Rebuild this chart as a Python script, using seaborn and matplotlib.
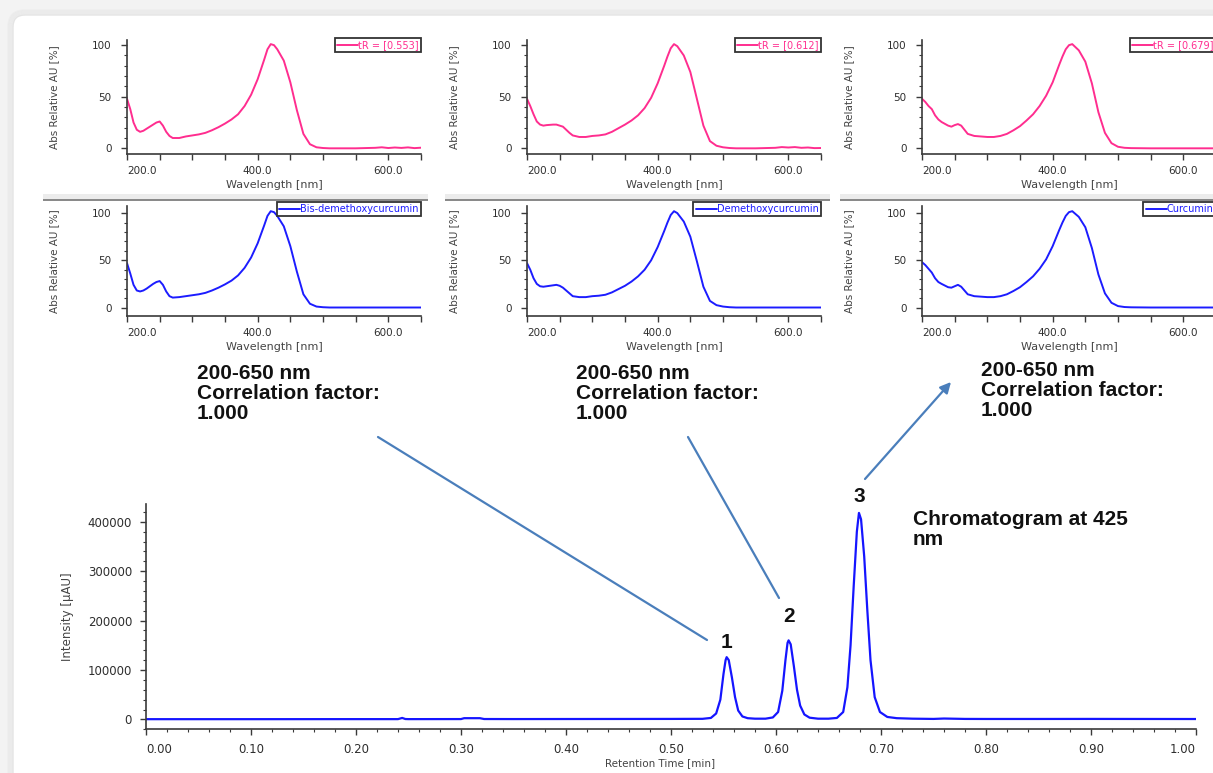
import matplotlib
matplotlib.use('Agg')
import matplotlib.pyplot as plt
from matplotlib.patches import FancyBboxPatch, Rectangle, FancyArrowPatch
from matplotlib.ticker import MultipleLocator
import seaborn as sns

sns.set_style('ticks')
plt.rcParams['font.family'] = ['DejaVu Sans']

# ---- data ----
wavelength = [200, 205, 210, 215, 220, 225, 230, 240, 245, 250, 255, 260, 265, 270,
              280, 290, 300, 310, 320, 330, 340, 350, 360, 370, 380, 390, 400, 410,
              415, 420, 425, 430, 440, 450, 460, 470, 480, 490, 500, 510, 520, 550,
              580, 590, 600, 610, 620, 630, 640, 650]

bis_sample = [48, 38, 25, 18, 16, 17, 19, 23, 25, 26, 22, 16, 12, 10,
              10, 11.5, 12.5, 13.5, 15, 17.5, 20.5, 24, 28, 33, 41, 52, 67, 86,
              96, 101, 100, 96, 85, 64, 37, 14, 4, 1, 0.3, 0, 0, 0,
              0.5, 1, 0.3, 0.8, 0.4, 0.9, 0.2, 0.6]
bis_library = [47, 36, 24, 18, 17, 18, 20, 25, 27, 28, 24, 17, 12, 10.5,
               11, 12, 13, 14, 15.5, 18, 21, 24.5, 28.5, 34, 42, 53, 68, 87,
               97, 102, 101, 97, 86, 65, 38, 14, 4, 1, 0.3, 0, 0, 0,
               0, 0, 0, 0, 0, 0, 0, 0]

dmc_sample = [48, 41, 33, 26, 23, 22, 22.5, 23, 23, 22, 21, 18, 15, 12.5,
              11, 11, 12, 12.5, 13.5, 16, 19.5, 23, 27, 32, 39, 49, 63, 80,
              89, 97, 101, 99, 90, 74, 48, 22, 7, 2.5, 1, 0.3, 0, 0,
              0.5, 1.2, 0.8, 1.2, 0.5, 0.8, 0.2, 0.3]
dmc_library = [47, 40, 31, 25, 22.5, 22, 22.5, 23.5, 24, 23, 21, 18, 15, 12,
               11, 11, 12, 12.5, 13.5, 16, 19.5, 23, 27.5, 33, 40, 50, 64, 81,
               90, 98, 102, 100, 91, 75, 49, 22, 7, 2.5, 1, 0.3, 0, 0,
               0, 0, 0, 0, 0, 0, 0, 0]

cur_sample = [48, 45, 41, 38, 32, 28, 25.5, 22, 21, 22.5, 23.5, 22, 18, 14,
              12, 11.5, 11, 11, 12, 14, 17.5, 21.5, 27, 33, 41, 51, 64, 81,
              89, 96, 100, 101, 95, 84, 63, 35, 15, 5, 1.5, 0.5, 0.2, 0,
              0, 0, 0, 0, 0, 0, 0, 0]
cur_library = [48, 45, 41, 37, 31, 27, 25, 21.5, 21, 22.5, 24, 22, 18, 14,
               12, 11.5, 11, 11, 12, 14, 17.5, 21.5, 27, 33, 41, 51, 65, 82,
               90, 97, 101, 102, 96, 85, 63, 35, 15, 5, 1.5, 0.5, 0.2, 0,
               0, 0, 0, 0, 0, 0, 0, 0]

sample_labels = ['tR = [0.553]', 'tR = [0.612]', 'tR = [0.679]']
library_labels = ['Bis-demethoxycurcumin', 'Demethoxycurcumin', 'Curcumin']

retention = [0.000, 0.100, 0.200, 0.240, 0.244, 0.247, 0.250, 0.300, 0.303, 0.318,
             0.322, 0.350, 0.400, 0.450, 0.500, 0.530, 0.538, 0.543, 0.547, 0.550,
             0.552, 0.553, 0.555, 0.558, 0.561, 0.564, 0.568, 0.573, 0.580, 0.590,
             0.597, 0.602, 0.606, 0.609, 0.611, 0.612, 0.614, 0.617, 0.620, 0.623,
             0.627, 0.632, 0.640, 0.650, 0.658, 0.664, 0.668, 0.671, 0.674, 0.677,
             0.679, 0.681, 0.684, 0.687, 0.690, 0.694, 0.699, 0.706, 0.715, 0.730,
             0.750, 0.760, 0.780, 0.800, 0.850, 0.900, 0.950, 1.000]
intensity = [500, 500, 600, 600, 3000, 800, 600, 700, 2500, 2500,
             800, 700, 800, 900, 1000, 1200, 3000, 12000, 40000, 92000,
             120000, 126000, 120000, 85000, 45000, 18000, 6000, 2500, 1500, 1500,
             4000, 15000, 58000, 120000, 155000, 160000, 152000, 108000, 60000, 28000,
             10000, 3500, 1500, 1500, 3000, 15000, 65000, 150000, 270000, 380000,
             418000, 405000, 330000, 220000, 120000, 45000, 15000, 5000, 2500, 1500,
             1000, 1800, 1000, 900, 900, 1000, 900, 800]

peak_rt = [0.553, 0.612, 0.679]
peak_height = [126000, 160000, 418000]
peak_names = ['1', '2', '3']
label_lift = [4, 10, 5]  # points above the apex

# ---- figure ----
W, H = 1213, 773
fig = plt.figure(figsize=(W / 100, H / 100), dpi=100, facecolor='#f3f3f3')


def px_axes(x0, y0, x1, y1, **kw):
    return fig.add_axes([x0 / W, 1 - y1 / H, (x1 - x0) / W, (y1 - y0) / H], **kw)


# card background
bg = fig.add_axes([0, 0, 1, 1], zorder=-5)
bg.set_xlim(0, W)
bg.set_ylim(H, 0)
bg.axis('off')
for i in range(1, 6):
    bg.add_patch(FancyBboxPatch((13 - i, 15 - i), 1400, 1000,
                                boxstyle='round,pad=0,rounding_size=%d' % (12 + i),
                                fc='none', ec='#000000', lw=1.2, alpha=0.02))
bg.add_patch(FancyBboxPatch((13, 15), 1400, 1000, boxstyle='round,pad=0,rounding_size=12',
                            fc='white', ec='#e4e4e4', lw=1))

spine_col = '#3a3a3a'
text_col = '#2e2e2e'
pink = '#ff2d8f'
blue = '#1c1cff'


def style_spectrum(ax, top_px, bottom_px, ylim, legend_px):
    ax.set_facecolor('none')
    sns.despine(ax=ax)
    for s in ['left', 'bottom']:
        ax.spines[s].set_color(spine_col)
        ax.spines[s].set_linewidth(1.2)
    ax.set_xlim(200, 650)
    ax.set_ylim(*ylim)
    ticks = list(range(200, 651, 50))
    ax.set_xticks(ticks)
    ax.set_xticklabels(['%.1f' % t if t in (200, 400, 600) else '' for t in ticks])
    ax.get_xticklabels()[0].set_ha('left')
    ax.set_yticks([0, 50, 100])
    ax.yaxis.set_minor_locator(MultipleLocator(10))
    ax.tick_params(axis='both', which='major', direction='out', length=4, width=1,
                   color=spine_col, labelsize=7.5, labelcolor=text_col)
    ax.tick_params(axis='y', which='major', pad=7)
    ax.tick_params(axis='x', which='major', pad=5)
    ax.tick_params(axis='y', which='minor', direction='out', length=2.5, width=0.8,
                   color=spine_col)
    ax.set_xlabel('Wavelength [nm]', fontsize=8, color='#444444')
    ax.set_ylabel('Abs Relative AU [%]', fontsize=7.5, color='#444444')
    h = bottom_px - top_px
    ax.xaxis.set_label_coords(0.5, -26 / h)
    ax.yaxis.set_label_coords(-68 / 294, 0.5)
    leg = ax.legend(loc='upper right', bbox_to_anchor=(1.0, 1 + (top_px - legend_px) / h),
                    borderaxespad=0, fontsize=7, handlelength=2.2, handletextpad=0.0,
                    borderpad=0.22, frameon=True, fancybox=False, edgecolor='#333333',
                    labelcolor='linecolor', framealpha=1)
    leg.get_frame().set_linewidth(1.3)


panel_left = [127, 527, 922]
samples = [bis_sample, dmc_sample, cur_sample]
libraries = [bis_library, dmc_library, cur_library]

for i in range(3):
    x0 = panel_left[i]
    ax = px_axes(x0, 40, x0 + 294, 154)
    sns.lineplot(x=wavelength, y=samples[i], ax=ax, color=pink, lw=1.4,
                 label=sample_labels[i], estimator=None)
    style_spectrum(ax, 40, 154, (-5.5, 105), 38)

    ax = px_axes(x0, 206, x0 + 294, 316)
    sns.lineplot(x=wavelength, y=libraries[i], ax=ax, color=blue, lw=1.4,
                 label=library_labels[i], estimator=None)
    style_spectrum(ax, 206, 316, (-9, 107.5), 202)

# chromatogram
cx = px_axes(146, 504, 1196, 729.3)
sns.lineplot(x=retention, y=intensity, ax=cx, color='#1515ff', lw=1.6, estimator=None)
cx.set_facecolor('none')
sns.despine(ax=cx)
for s in ['left', 'bottom']:
    cx.spines[s].set_color(spine_col)
    cx.spines[s].set_linewidth(1.2)
cx.set_xlim(0, 1.0)
cx.set_ylim(-20000, 436000)
xt = [i / 10 for i in range(11)]
cx.set_xticks(xt)
cx.set_xticklabels(['%.2f' % t for t in xt])
cx.get_xticklabels()[0].set_ha('left')
cx.get_xticklabels()[-1].set_ha('right')
cx.xaxis.set_minor_locator(MultipleLocator(0.02))
yt = [0, 100000, 200000, 300000, 400000]
cx.set_yticks(yt)
cx.set_yticklabels([str(v) for v in yt])
cx.yaxis.set_minor_locator(MultipleLocator(20000))
cx.tick_params(axis='both', which='major', direction='out', length=4, width=1,
               color=spine_col, labelsize=8.5, labelcolor=text_col)
cx.tick_params(axis='y', which='major', pad=6)
cx.tick_params(axis='x', which='major', pad=6)
cx.tick_params(axis='both', which='minor', direction='out', length=2.5, width=0.8,
               color=spine_col)
cx.set_xlabel('Retention Time [min]', fontsize=7.5, color='#444444')
cx.set_ylabel('Intensity [µAU]', fontsize=8.5, color='#444444')
cx.xaxis.set_label_coords(0.49, -29 / 225.3)
cx.yaxis.set_label_coords(-72 / 1050, 0.5)

for name, rt, h, lift in zip(peak_names, peak_rt, peak_height, label_lift):
    cx.annotate(name, xy=(rt, h), xytext=(0, lift), textcoords='offset points',
                ha='center', va='bottom', fontsize=15, fontweight='bold',
                family='Liberation Sans', color='#111111')

# ---- overlay: separators, callouts, notes ----
ov = fig.add_axes([0, 0, 1, 1], zorder=10)
ov.set_xlim(0, W)
ov.set_ylim(H, 0)
ov.axis('off')
ov.patch.set_alpha(0)

for xa, xb in [(43, 428), (445, 830), (840, 1213)]:
    ov.add_patch(Rectangle((xa, 194), xb - xa, 5, fc='#ececec', ec='none'))
    ov.add_patch(Rectangle((xa, 199), xb - xa, 2, fc='#8a8a8a', ec='none'))

# the lower row's axis titles are cut by the slide
ov.add_patch(Rectangle((20, 355), W, 7, fc='white', ec='none'))

note_lines = ['200-650 nm', 'Correlation factor:', '1.000']
for x_left, base in [(197, 379), (576, 379), (981, 376)]:
    for k, line in enumerate(note_lines):
        ov.text(x_left, base + 20 * k, line, ha='left', va='baseline', fontsize=15,
                fontweight='bold', family='Liberation Sans', color='#111111')

ov.text(913, 525, 'Chromatogram at 425', ha='left', va='baseline', fontsize=15,
        fontweight='bold', family='Liberation Sans', color='#111111')
ov.text(913, 545, 'nm', ha='left', va='baseline', fontsize=15,
        fontweight='bold', family='Liberation Sans', color='#111111')

arrow_col = '#4a7ebb'
ov.plot([378, 707], [437, 640], color=arrow_col, lw=1.6, solid_capstyle='round')
ov.plot([688, 779], [437, 598], color=arrow_col, lw=1.6, solid_capstyle='round')
ov.add_patch(FancyArrowPatch((865, 479), (951, 382), arrowstyle='-|>', mutation_scale=16,
                             color=arrow_col, lw=1.6, shrinkA=0, shrinkB=0))

fig.savefig('out.png', dpi=100)
